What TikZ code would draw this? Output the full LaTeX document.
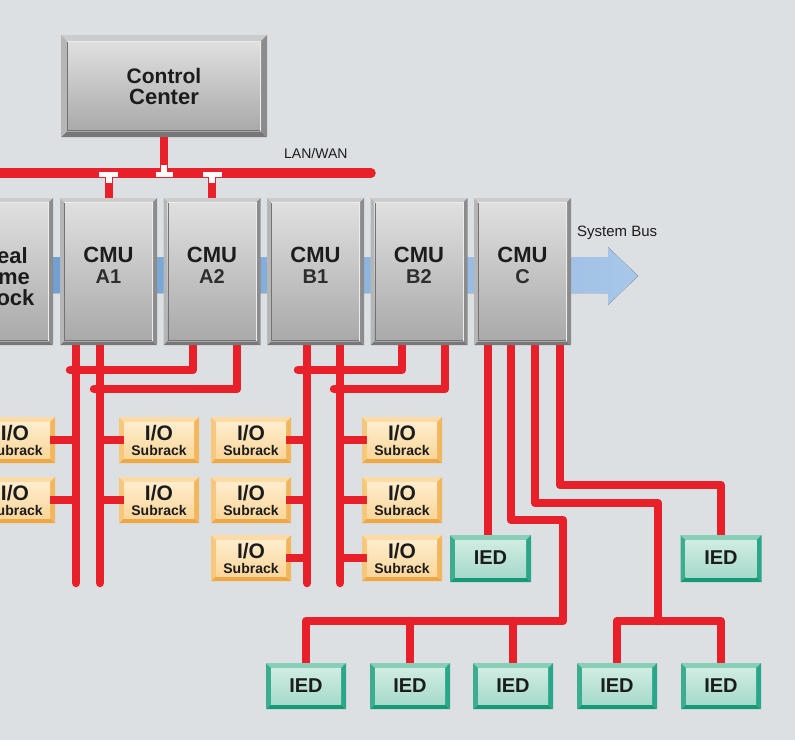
\documentclass[tikz,border=0pt]{standalone}
\usepackage{fontspec}
\setmainfont{Liberation Sans}
\usetikzlibrary{calc}
\definecolor{bg}{HTML}{DDE0E3}
\definecolor{wire}{HTML}{E8202A}
\definecolor{ink}{HTML}{1C1C1C}
\definecolor{ink2}{HTML}{2E2E2E}
\definecolor{busL}{HTML}{6A9DD0}
\definecolor{busR}{HTML}{A8C7E9}
% CMU / control centre
\definecolor{cmuT}{HTML}{CCCCCC}\definecolor{cmuL}{HTML}{B6B6B6}
\definecolor{cmuB}{HTML}{777777}\definecolor{cmuR}{HTML}{8C8C8C}
\definecolor{cmuF}{HTML}{E0E0E0}\definecolor{cmuG}{HTML}{A9A9A9}
% I/O subrack
\definecolor{ioT}{HTML}{FCDBA4}\definecolor{ioL}{HTML}{F7C87C}
\definecolor{ioB}{HTML}{EEA745}\definecolor{ioR}{HTML}{F2B65C}
\definecolor{ioF}{HTML}{FEEDCD}\definecolor{ioG}{HTML}{FAD69A}
% IED
\definecolor{iedT}{HTML}{88CEB9}\definecolor{iedL}{HTML}{3DAD90}
\definecolor{iedB}{HTML}{179977}\definecolor{iedR}{HTML}{2AA688}
\definecolor{iedF}{HTML}{D0ECE3}\definecolor{iedG}{HTML}{A6DACA}
\tikzset{
  wire/.style={draw=wire, line width=8.5pt, line cap=round, line join=round},
  boxface/.style={inner sep=0pt, outer sep=0pt, top color=#1F, bottom color=#1G},
  cmutext/.style={font=\bfseries\fontsize{22}{21}\selectfont, align=center, text=ink, inner sep=0pt},
  iotext/.style={font=\bfseries\fontsize{14}{15}\selectfont, align=center, text=ink, inner sep=0pt},
  iedtext/.style={font=\bfseries\fontsize{20}{20}\selectfont, align=center, text=ink, inner sep=0pt},
  plain/.style={font=\fontsize{14}{14}\selectfont, text=ink, inner sep=0pt},
  anchorbox/.style={inner sep=0pt, outer sep=0pt},
}
% #1 name #2 cx #3 cy #4 w #5 h #6 kind #7 bevel #8 text yshift #9 text
\newcommand\bevbox[9]{%
  \begin{scope}[shift={(#2,#3)}]
    \pgfmathsetmacro\hw{#4/2}\pgfmathsetmacro\hh{#5/2}%
    \pgfmathsetmacro\iw{#4/2-#7}\pgfmathsetmacro\ih{#5/2-#7}%
    \fill[#6T] (-\hw,-\hh) -- (\hw,-\hh) -- (\iw,-\ih) -- (-\iw,-\ih) -- cycle;
    \fill[#6B] (-\hw,\hh) -- (\hw,\hh) -- (\iw,\ih) -- (-\iw,\ih) -- cycle;
    \fill[#6L] (-\hw,-\hh) -- (-\iw,-\ih) -- (-\iw,\ih) -- (-\hw,\hh) -- cycle;
    \fill[#6R] (\hw,-\hh) -- (\iw,-\ih) -- (\iw,\ih) -- (\hw,\hh) -- cycle;
  \end{scope}
  \node[boxface=#6, minimum width={#4-2*#7}, minimum height={#5-2*#7}] (#1) at (#2,#3) {};
  \node[#6text, yshift=#8pt] (#1t) at (#1) {#9};
}
\newcommand\cmuedge[1]{%
  \draw[black!55, line width=0.9pt] ([xshift=0.5pt]#1.north west) -- ([xshift=0.5pt,yshift=0.5pt]#1.south west) -- ([yshift=0.5pt]#1.south east);
  \draw[white!85!gray, line width=0.7pt] ([yshift=-0.4pt]#1.north west) -- ([xshift=-0.4pt,yshift=-0.4pt]#1.north east) -- ([xshift=-0.4pt]#1.south east);
}
\begin{document}
\begin{tikzpicture}[x=1pt,y=-1pt]
\useasboundingbox (0,0) rectangle (795,740);
\fill[bg] (0,0) rectangle (795,740);

% system bus arrow
\fill[left color=busL, right color=busR]
  (-5,257) -- (608,257) -- (608,247) -- (638,276) -- (608,305) -- (608,293) -- (-5,293) -- cycle;

\coordinate (lanL) at (-10,173);
\coordinate (lanR) at (371,173);

% named junctions / free ends
\coordinate (jA1) at (70,370);  \coordinate (jA2) at (94,389);
\coordinate (jB1) at (298,370); \coordinate (jB2) at (334,389);
\coordinate (eA1) at (76,583);  \coordinate (eA2) at (100,583);
\coordinate (eB1) at (307,583); \coordinate (eB2) at (340,583);
\coordinate (k2) at (563,520);  \coordinate (h1) at (563,621);
\coordinate (k3) at (658,503);  \coordinate (h2) at (658,621);
\coordinate (k4) at (721,485);

% anchor shapes of the boxes (painted later, on top of the wires)
\path
  node[anchorbox, minimum width=194pt, minimum height=90pt] (ccA) at (164,86) {}
  node[anchorbox, minimum width=89pt, minimum height=139pt] (a1A) at (108.5,271.5) {}
  node[anchorbox, minimum width=89pt, minimum height=139pt] (a2A) at (212,271.5) {}
  node[anchorbox, minimum width=89pt, minimum height=139pt] (b1A) at (315.5,271.5) {}
  node[anchorbox, minimum width=89pt, minimum height=139pt] (b2A) at (419,271.5) {}
  node[anchorbox, minimum width=89pt, minimum height=139pt] (cA) at (522.5,271.5) {};

% LAN / WAN
\draw[wire, line width=9.5pt] (lanL) -- (lanR);
\draw[wire, line width=8pt, line cap=butt] (ccA.south) -- (ccA.south |- lanL);
\draw[wire, line width=8pt, line cap=butt] (a1A.north) -- (a1A.north |- lanL);
\draw[wire, line width=8pt, line cap=butt] (a2A.north) -- (a2A.north |- lanL);

% CMU A / B buses
\draw[wire] ($(a1A.south)+(-32.5,0)$) -- (eA1);
\draw[wire] ($(a1A.south)+(-8.5,0)$) -- (eA2);
\draw[wire] ($(a2A.south)+(-19,0)$) |- (jA1);
\draw[wire] ($(a2A.south)+(25,0)$) |- (jA2);
\draw[wire] ($(b1A.south)+(-8.5,0)$) -- (eB1);
\draw[wire] ($(b1A.south)+(24.5,0)$) -- (eB2);
\draw[wire] ($(b2A.south)+(-17,0)$) |- (jB1);
\draw[wire] ($(b2A.south)+(26,0)$) |- (jB2);

% I/O subracks
\bevbox{io11}{15}{440}{80}{46}{io}{5}{0}{{\fontsize{21}{21}\selectfont I/O}\\Subrack}
\bevbox{io12}{15}{500}{80}{46}{io}{5}{0}{{\fontsize{21}{21}\selectfont I/O}\\Subrack}
\bevbox{io21}{159}{440}{80}{46}{io}{5}{0}{{\fontsize{21}{21}\selectfont I/O}\\Subrack}
\bevbox{io22}{159}{500}{80}{46}{io}{5}{0}{{\fontsize{21}{21}\selectfont I/O}\\Subrack}
\bevbox{io31}{251}{440}{80}{46}{io}{5}{0}{{\fontsize{21}{21}\selectfont I/O}\\Subrack}
\bevbox{io32}{251}{500}{80}{46}{io}{5}{0}{{\fontsize{21}{21}\selectfont I/O}\\Subrack}
\bevbox{io33}{251}{558}{80}{46}{io}{5}{0}{{\fontsize{21}{21}\selectfont I/O}\\Subrack}
\bevbox{io41}{402}{440}{80}{46}{io}{5}{0}{{\fontsize{21}{21}\selectfont I/O}\\Subrack}
\bevbox{io42}{402}{500}{80}{46}{io}{5}{0}{{\fontsize{21}{21}\selectfont I/O}\\Subrack}
\bevbox{io43}{402}{558}{80}{46}{io}{5}{0}{{\fontsize{21}{21}\selectfont I/O}\\Subrack}

\draw[wire, line cap=butt] (io11.east) -- (io11.east -| eA1);
\draw[wire, line cap=butt] (io12.east) -- (io12.east -| eA1);
\draw[wire, line cap=butt] (io21.west) -- (io21.west -| eA2);
\draw[wire, line cap=butt] (io22.west) -- (io22.west -| eA2);
\draw[wire, line cap=butt] (io31.east) -- (io31.east -| eB1);
\draw[wire, line cap=butt] (io32.east) -- (io32.east -| eB1);
\draw[wire, line cap=butt] (io33.east) -- (io33.east -| eB1);
\draw[wire, line cap=butt] (io41.west) -- (io41.west -| eB2);
\draw[wire, line cap=butt] (io42.west) -- (io42.west -| eB2);
\draw[wire, line cap=butt] (io43.west) -- (io43.west -| eB2);

% IED anchor shapes
\path
  node[anchorbox, minimum width=71pt, minimum height=37pt] (iedU1A) at (490.5,558.5) {}
  node[anchorbox, minimum width=71pt, minimum height=37pt] (iedU2A) at (721,558.5) {}
  node[anchorbox, minimum width=70pt, minimum height=36pt] (iedB1A) at (306,686) {}
  node[anchorbox, minimum width=70pt, minimum height=36pt] (iedB2A) at (410,686) {}
  node[anchorbox, minimum width=70pt, minimum height=36pt] (iedB3A) at (513,686) {}
  node[anchorbox, minimum width=70pt, minimum height=36pt] (iedB4A) at (617,686) {}
  node[anchorbox, minimum width=70pt, minimum height=36pt] (iedB5A) at (721,686) {};

% CMU C feeders
\draw[wire] ($(cA.south)+(-34.5,0)$) coordinate (s1) -- (s1 |- iedU1A.north);
\draw[wire] ($(cA.south)+(-11.5,0)$) |- (k2) -- (h1) -| (iedB1A.north);
\draw[wire] (iedB2A.north) -- (iedB2A.north |- h1);
\draw[wire] (iedB3A.north) -- (iedB3A.north |- h1);
\draw[wire] ($(cA.south)+(12.5,0)$) |- (k3) -- (h2);
\draw[wire] (iedB4A.north) |- (h2) -| (iedB5A.north);
\draw[wire] ($(cA.south)+(37.5,0)$) |- (k4) -- (iedU2A.north);

% control centre and CMUs
\bevbox{cc}{164}{86}{206}{102}{cmu}{6}{0}{\fontsize{21}{22}\selectfont Control\\Center}
\bevbox{rtc}{4.5}{271.5}{97}{147}{cmu}{4}{-5.5}{Real\\Time\\Clock}
\bevbox{a1}{108.5}{271.5}{97}{147}{cmu}{4}{6}{CMU\\{\fontsize{20}{21}\selectfont\color{ink2}A1}}
\bevbox{a2}{212}{271.5}{97}{147}{cmu}{4}{6}{CMU\\{\fontsize{20}{21}\selectfont\color{ink2}A2}}
\bevbox{b1}{315.5}{271.5}{97}{147}{cmu}{4}{6}{CMU\\{\fontsize{20}{21}\selectfont\color{ink2}B1}}
\bevbox{b2}{419}{271.5}{97}{147}{cmu}{4}{6}{CMU\\{\fontsize{20}{21}\selectfont\color{ink2}B2}}
\bevbox{c}{522.5}{271.5}{97}{147}{cmu}{4}{6}{CMU\\{\fontsize{20}{21}\selectfont\color{ink2}C}}
\cmuedge{cc}\cmuedge{rtc}\cmuedge{a1}\cmuedge{a2}\cmuedge{b1}\cmuedge{b2}\cmuedge{c}

% IEDs
\bevbox{iedU1}{490.5}{558.5}{81}{47}{ied}{5}{1}{IED}
\bevbox{iedU2}{721}{558.5}{81}{47}{ied}{5}{1}{IED}
\bevbox{iedB1}{306}{686}{80}{46}{ied}{5}{0}{IED}
\bevbox{iedB2}{410}{686}{80}{46}{ied}{5}{0}{IED}
\bevbox{iedB3}{513}{686}{80}{46}{ied}{5}{0}{IED}
\bevbox{iedB4}{617}{686}{80}{46}{ied}{5}{0}{IED}
\bevbox{iedB5}{721}{686}{80}{46}{ied}{5}{0}{IED}

% white T couplers on the LAN
\fill[white] ($(ccA.south |- lanL)+(-8.5,-1.5)$) rectangle +(17,5);
\fill[white] ($(ccA.south |- lanL)+(-3,-8.5)$) rectangle +(6,7.5);
\fill[white] ($(a1A.north |- lanL)+(-9.5,-1)$) rectangle +(19,5);
\fill[white] ($(a1A.north |- lanL)+(-3,3.5)$) rectangle +(6,6.5);
\fill[white] ($(a2A.north |- lanL)+(-9.5,-1)$) rectangle +(19,5);
\fill[white] ($(a2A.north |- lanL)+(-3,3.5)$) rectangle +(6,6.5);

% labels
\node[plain, anchor=west] (lanlabel) at (284,153) {LAN/WAN};
\node[plain, font=\fontsize{15}{15}\selectfont, anchor=west] (buslabel) at (577,233) {System Bus};
\end{tikzpicture}
\end{document}
